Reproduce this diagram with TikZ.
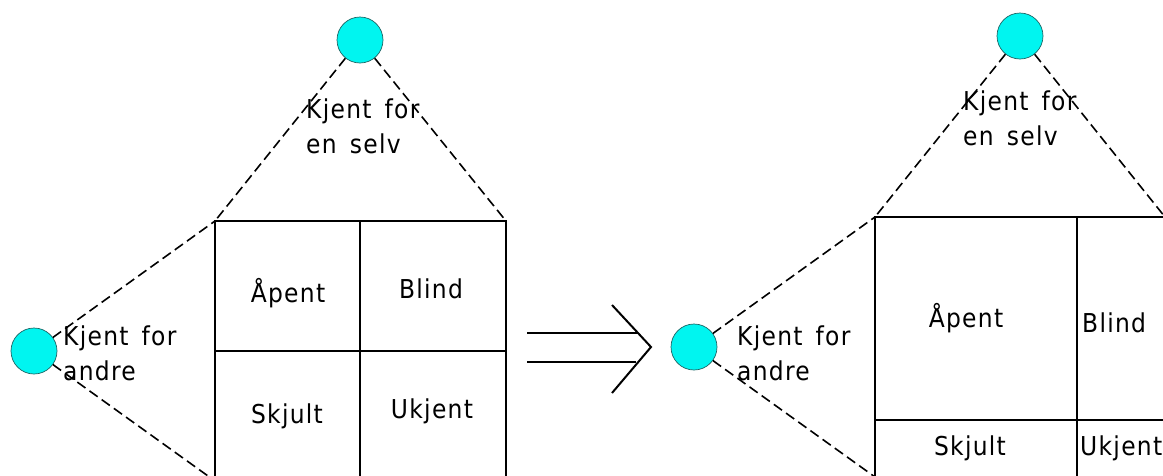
\documentclass[tikz,border=0pt]{standalone}
\usepackage{fontspec}
\setmainfont{DejaVu Sans Condensed}[LetterSpace=5, WordSpace=1.5]
\usepackage{tikz}
\definecolor{johcyan}{RGB}{0, 245, 240}
\definecolor{johbordo}{RGB}{30, 100, 100}

\begin{document}
\begin{tikzpicture}[x=1pt, y=-1pt,
    occhio/.style={circle, draw=johbordo, line width=0.7pt, fill=johcyan, minimum size=46pt, inner sep=0pt},
    tratto/.style={dash pattern=on 10pt off 5pt, line width=1.6pt},
    cella/.style={line width=2pt},
    testo/.style={font=\fontsize{26}{35}\selectfont, inner sep=0pt},
    etichetta/.style={testo, align=left, anchor=north west}]
            \useasboundingbox (0,0) rectangle (1163,475);

            % Finestra iniziale
            \node[occhio] (aSelv) at (360,40) {};
            \node[occhio] (aAndre) at (34,351) {};
            \coordinate (aNW) at (215,221);
            \coordinate (aNE) at (506,221);
            \coordinate (aSW) at (215,481);
            \coordinate (aSE) at (506,481);
            \coordinate (aN) at (360,221);
            \coordinate (aS) at (360,481);
            \coordinate (aW) at (215,351);
            \coordinate (aE) at (506,351);

            \draw[tratto] (aSelv) -- (aNW);
            \draw[tratto] (aSelv) -- (aNE);
            \draw[tratto] (aAndre) -- (aNW);
            \draw[tratto] (aAndre) -- (aSW);

            \draw[cella] (aSW) -- (aNW) -- (aNE) -- (aSE);
            \draw[cella] (aN) -- (aS);
            \draw[cella] (aW) -- (aE);

            \node[etichetta] (aSelvTxt) at (306,99) {Kjent for\\en selv};
            \node[etichetta] (aAndreTxt) at (63,326) {Kjent for\\andre};
            \node[testo, anchor=base] (aApent) at (288,302) {Åpent};
            \node[testo, anchor=base] (aBlind) at (431,298) {Blind};
            \node[testo, anchor=base] (aSkjult) at (287,423) {Skjult};
            \node[testo, anchor=base] (aUkjent) at (432,418) {Ukjent};

            % Freccia doppia
            \draw[cella] (527,333) -- (638,333);
            \draw[cella] (527,362) -- (636,362);
            \draw[cella] (612,305) -- (651,347) -- (612,393);

            % Finestra dopo
            \node[occhio] (bSelv) at (1020,36) {};
            \node[occhio] (bAndre) at (694,347) {};
            \coordinate (bNW) at (875,217);
            \coordinate (bNE) at (1165,217);
            \coordinate (bSW) at (875,477);
            \coordinate (bSE) at (1165,477);
            \coordinate (bN) at (1077,217);
            \coordinate (bS) at (1077,477);
            \coordinate (bW) at (875,420);
            \coordinate (bE) at (1165,420);

            \draw[tratto] (bSelv) -- (bNW);
            \draw[tratto] (bSelv) -- (bNE);
            \draw[tratto] (bAndre) -- (bNW);
            \draw[tratto] (bAndre) -- (bSW);

            \draw[cella] (bSW) -- (bNW) -- (bNE) -- (bSE);
            \draw[cella] (bN) -- (bS);
            \draw[cella] (bW) -- (bE);

            \node[etichetta] (bSelvTxt) at (963,91) {Kjent for\\en selv};
            \node[etichetta] (bAndreTxt) at (737,326) {Kjent for\\andre};
            \node[testo, anchor=base] (bApent) at (966,327) {Åpent};
            \node[testo, anchor=base west] (bBlind) at (1082,332) {Blind};
            \node[testo, anchor=base] (bSkjult) at (970,455) {Skjult};
            \node[testo, anchor=base west] (bUkjent) at (1080,455) {Ukjent};
        \end{tikzpicture}
\end{document}
